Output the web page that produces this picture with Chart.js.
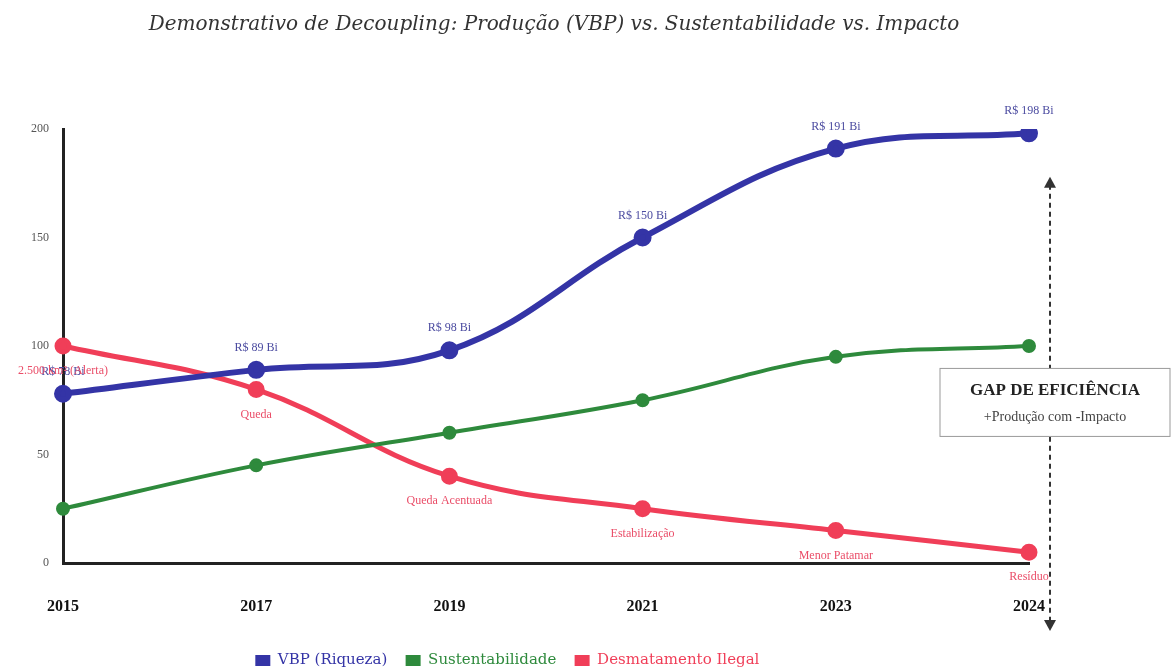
<!DOCTYPE html>
<html>
<head>
<meta charset="utf-8">
<script src="https://cdn.jsdelivr.net/npm/chart.js@4/dist/chart.umd.min.js"></script>
<style>
  html, body { margin: 0; padding: 0; background: #fff; }
  #wrap { width: 1174px; height: 667px; }
</style>
</head>
<body>
<div id="wrap"><canvas id="chart" width="1174" height="667"></canvas></div>
<script>
const years = ["2015", "2017", "2019", "2021", "2023", "2024"];
const vbp = [78, 89, 98, 150, 191, 198];
const sustentabilidade = [25, 45, 60, 75, 95, 100];
const desmatamento = [100, 80, 40, 25, 15, 5];
const vbpLabels = ["R$ 78 Bi", "R$ 89 Bi", "R$ 98 Bi", "R$ 150 Bi", "R$ 191 Bi", "R$ 198 Bi"];
const desmLabels = ["2.500 km² (Alerta)", "Queda", "Queda Acentuada", "Estabilização", "Menor Patamar", "Resíduo"];

const serif = "'Liberation Serif', 'DejaVu Serif', serif";
const slab = "'DejaVu Serif', serif";
const blue = "#3434a6";
const green = "#2e8a3c";
const red = "#f03e58";

// title drawn by hand so it can sit off-centre like the original
const titlePlugin = {
  id: "titleText",
  afterDraw(chart) {
    const ctx = chart.ctx;
    ctx.save();
    ctx.font = "italic 20px " + slab;
    ctx.fillStyle = "#333";
    ctx.textAlign = "center";
    ctx.textBaseline = "middle";
    ctx.fillText("Demonstrativo de Decoupling: Produção (VBP) vs. Sustentabilidade vs. Impacto", 554, 25);
    ctx.restore();
  },
};

const pointLabels = {
  id: "pointLabels",
  afterDatasetsDraw(chart) {
    const ctx = chart.ctx;
    ctx.save();
    ctx.font = "12px " + serif;
    ctx.textAlign = "center";
    ctx.textBaseline = "middle";
    chart.getDatasetMeta(0).data.forEach((pt, i) => {
      ctx.fillStyle = "#4b4ba0";
      ctx.fillText(vbpLabels[i], pt.x, pt.y - 22);
    });
    chart.getDatasetMeta(2).data.forEach((pt, i) => {
      ctx.fillStyle = "#ea4d68";
      ctx.fillText(desmLabels[i], pt.x, pt.y + 25);
    });
    ctx.restore();
  },
};

const gapPlugin = {
  id: "gap",
  afterDraw(chart) {
    const ctx = chart.ctx;
    const area = chart.chartArea;
    const y = chart.scales.y;
    const x = area.right + 21;
    const top = y.getPixelForValue(178);
    const bottom = area.bottom + 68;
    ctx.save();
    ctx.strokeStyle = "#333";
    ctx.fillStyle = "#333";
    ctx.lineWidth = 2;
    ctx.setLineDash([5, 4]);
    ctx.beginPath();
    ctx.moveTo(x, top + 8);
    ctx.lineTo(x, bottom - 8);
    ctx.stroke();
    ctx.setLineDash([]);
    ctx.beginPath();
    ctx.moveTo(x, top); ctx.lineTo(x - 6, top + 11); ctx.lineTo(x + 6, top + 11); ctx.closePath();
    ctx.fill();
    ctx.beginPath();
    ctx.moveTo(x, bottom); ctx.lineTo(x - 6, bottom - 11); ctx.lineTo(x + 6, bottom - 11); ctx.closePath();
    ctx.fill();

    // annotation box
    const cy = y.getPixelForValue(74);
    const cx = x + 5;
    const w = 230, h = 68;
    ctx.fillStyle = "#fff";
    ctx.fillRect(cx - w / 2, cy - h / 2, w, h);
    ctx.strokeStyle = "#999";
    ctx.lineWidth = 1;
    ctx.strokeRect(cx - w / 2, cy - h / 2, w, h);
    ctx.fillStyle = "#222";
    ctx.textAlign = "center";
    ctx.textBaseline = "middle";
    ctx.font = "bold 17px " + serif;
    ctx.fillText("GAP DE EFICIÊNCIA", cx, cy - 12);
    ctx.font = "14px " + serif;
    ctx.fillStyle = "#444";
    ctx.fillText("+Produção com -Impacto", cx, cy + 15);
    ctx.restore();
  },
};

new Chart(document.getElementById("chart"), {
  type: "line",
  data: {
    labels: years,
    datasets: [
      {
        label: "VBP (Riqueza)",
        data: vbp,
        borderColor: blue,
        backgroundColor: blue,
        borderWidth: 6,
        pointRadius: 6,
        tension: 0.4,
      },
      {
        label: "Sustentabilidade",
        data: sustentabilidade,
        borderColor: green,
        backgroundColor: green,
        borderWidth: 4,
        pointRadius: 5,
        tension: 0.4,
      },
      {
        label: "Desmatamento Ilegal",
        data: desmatamento,
        borderColor: red,
        backgroundColor: red,
        borderWidth: 5,
        pointRadius: 6,
        tension: 0.4,
      },
    ],
  },
  options: {
    responsive: false,
    animation: false,
    layout: { padding: { top: 129, right: 145, bottom: -11, left: 0 } },
    scales: {
      x: {
        offset: false,
        grid: { display: false, drawTicks: false },
        border: { display: true, color: "#222", width: 3 },
        ticks: { color: "#111", padding: 34, font: { family: serif, size: 16, weight: "bold" } },
        afterFit: (s) => { s.height = 86; },
      },
      y: {
        min: 0,
        max: 200,
        grid: { display: false, drawTicks: false },
        border: { display: true, color: "#222", width: 3 },
        ticks: { stepSize: 50, color: "#555", padding: 14, font: { family: serif, size: 12 } },
        afterFit: (s) => { s.width = 63; },
      },
    },
    plugins: {
      title: { display: false },
      tooltip: { enabled: false },
      legend: {
        position: "bottom",
        labels: {
          boxWidth: 15,
          boxHeight: 11,
          padding: 4,
          font: { family: slab, size: 15 },
          generateLabels(chart) {
            return chart.data.datasets.map((ds, i) => ({
              text: ds.label + "   ",
              fillStyle: ds.borderColor,
              strokeStyle: ds.borderColor,
              fontColor: ds.borderColor,
              lineWidth: 0,
              datasetIndex: i,
            }));
          },
        },
      },
    },
  },
  plugins: [titlePlugin, pointLabels, gapPlugin],
});
</script>
</body>
</html>
